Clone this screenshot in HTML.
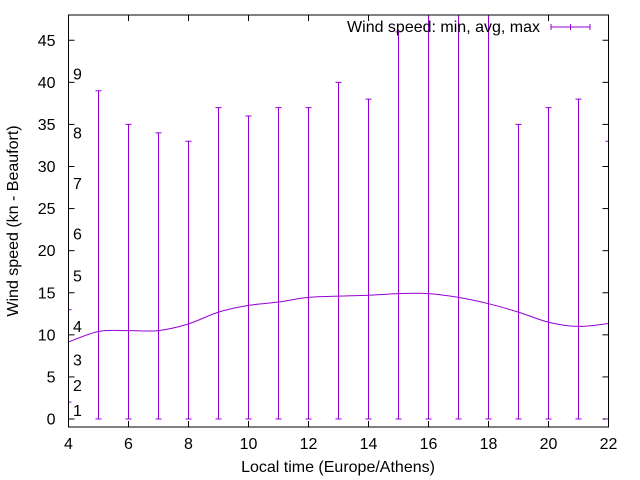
<!DOCTYPE html>
<html><head><meta charset="utf-8"><style>
body{margin:0;background:#fff;}
svg{display:block;font-family:"Liberation Sans",sans-serif;}
</style></head><body>
<svg id="chart" width="640" height="480" xmlns="http://www.w3.org/2000/svg"></svg>
<script>
const hours = [4,5,6,7,8,9,10,11,12,13,14,15,16,17,18,19,20,21,22];
const avgSpeed = [9.15,10.4,10.5,10.5,11.3,12.7,13.5,13.9,14.45,14.6,14.7,14.9,14.9,14.45,13.7,12.7,11.5,11.0,11.35];
const minSpeed = [2,0,0,0,0,0,0,0,0,0,0,0,0,0,0,0,0,0,0];
const maxSpeed = [13,39,35,34,33,37,36,37,37,40,38,46,50,50,50,35,37,38,33];
const xTicks = [4,6,8,10,12,14,16,18,20,22];
const yTicks = [0,5,10,15,20,25,30,35,40,45];
const beaufortKn = [1,4,7,11,17,22,28,34,41];
const beaufortLabels = ["1","2","3","4","5","6","7","8","9"];

const L=68.5,R=608.5,T=15,B=427;
const xMin=4,xMax=22,yMin=-0.95,yMax=48;
const sx=v=>L+(v-xMin)/(xMax-xMin)*(R-L);
const sy=v=>B-(v-yMin)/(yMax-yMin)*(B-T);
const svg=document.getElementById('chart');
const NS='http://www.w3.org/2000/svg';
function mk(tag,attrs,parent){const e=document.createElementNS(NS,tag);for(const k in attrs)e.setAttribute(k,attrs[k]);(parent||svg).appendChild(e);return e;}
const col='#9400d3';
const FS=16;

const defs=mk('defs',{});
const cp=mk('clipPath',{id:'clip'},defs);
mk('rect',{x:L,y:T,width:R-L,height:B-T},cp);

xTicks.forEach(v=>{
  const x=sx(v);
  const t1=mk('line',{x1:x,y1:B,x2:x,y2:B-6,stroke:'#000','stroke-width':1});
  
  
  const t2=mk('line',{x1:x,y1:T,x2:x,y2:T+6,stroke:'#000','stroke-width':1});
  
  
  const tx=mk('text',{x:x,y:B+22,'text-anchor':'middle','font-size':FS,fill:'#000'});
  tx.textContent=v;
  
  
});
yTicks.forEach(v=>{
  const y=sy(v);
  const t1=mk('line',{x1:L,y1:y,x2:L+6,y2:y,stroke:'#000','stroke-width':1});
  
  
  const t2=mk('line',{x1:R,y1:y,x2:R-6,y2:y,stroke:'#000','stroke-width':1});
  
  
  const tx=mk('text',{x:L-13,y:y+5.5,'text-anchor':'end','font-size':FS,fill:'#000'});
  tx.textContent=v;
  
  
});
beaufortKn.forEach((v,i)=>{
  const tx=mk('text',{x:73,y:sy(v)+5.5,'font-size':FS,fill:'#000'});
  tx.textContent=beaufortLabels[i];
  
  
});

const g=mk('g',{'clip-path':'url(#clip)'});


hours.forEach((h,i)=>{
  const x=sx(h),y1=sy(minSpeed[i]),y2=sy(maxSpeed[i]);
  const bar=mk('path',{d:`M${x},${y1}V${y2}M${x-3},${y1}H${x+3}M${x-3},${y2}H${x+3}`,stroke:col,'stroke-width':1,fill:'none'},g);
  
  
});
const pts=hours.map((h,i)=>[sx(h),sy(avgSpeed[i])]);
let d=`M${pts[0][0]},${pts[0][1]}`;
for(let i=0;i<pts.length-1;i++){
  const p0=pts[i-1]||pts[i],p1=pts[i],p2=pts[i+1],p3=pts[i+2]||p2;
  const c1=[p1[0]+(p2[0]-p0[0])/6,p1[1]+(p2[1]-p0[1])/6];
  const c2=[p2[0]-(p3[0]-p1[0])/6,p2[1]-(p3[1]-p1[1])/6];
  d+=`C${c1[0]},${c1[1]} ${c2[0]},${c2[1]} ${p2[0]},${p2[1]}`;
}
const line=mk('path',{d:d,stroke:col,'stroke-width':1,fill:'none'},g);



const frame=mk('rect',{x:L,y:T,width:R-L,height:B-T,fill:'none',stroke:'#000','stroke-width':1});



const lt=mk('text',{x:540,y:32,'text-anchor':'end','font-size':FS,fill:'#000'});
lt.textContent='Wind speed: min, avg, max';


const ls=mk('path',{d:'M551,27H590M551,24V30M590,24V30M570.5,24V30',stroke:col,'stroke-width':1,fill:'none'});



const xt=mk('text',{x:338,y:472,'text-anchor':'middle','font-size':FS,fill:'#000'});
xt.textContent='Local time (Europe/Athens)';


const yt=mk('text',{x:0,y:0,'text-anchor':'middle','font-size':FS,fill:'#000',transform:'translate(18,221) rotate(-90)'});
yt.textContent='Wind speed (kn - Beaufort)';


</script>
</body></html>
